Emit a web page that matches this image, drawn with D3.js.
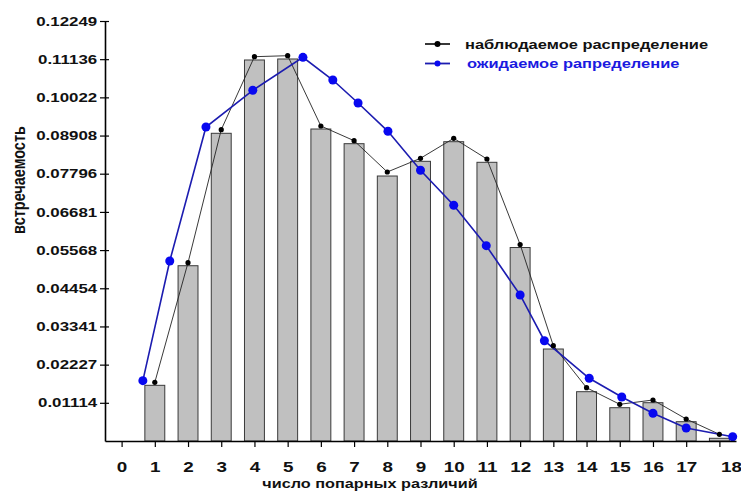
<!DOCTYPE html>
<html>
<head>
<meta charset="utf-8">
<script src="https://cdn.jsdelivr.net/npm/d3@7"></script>
<style>
  body { margin: 0; background: #fff; }
  text { font-family: "Liberation Sans", Arial, sans-serif; font-weight: bold; }
</style>
</head>
<body>
<script>
// categories (number of pairwise differences)
const xLabels = ["0","1","2","3","4","5","6","7","8","9","10","11","12","13","14","15","16","17","18"];
const yTickLabels = ["0.01114","0.02227","0.03341","0.04454","0.05568","0.06681","0.07796","0.08908","0.10022","0.11136","0.12249"];

// bars (observed histogram), categories 1..18
const barCats = [1,2,3,4,5,6,7,8,9,10,11,12,13,14,15,16,17,18];
const barValues = [0.01624,0.05112,0.08974,0.11112,0.11141,0.09099,0.08671,0.07728,0.08157,0.08729,0.08128,0.05643,0.02683,0.01438,0.00971,0.01117,0.00563,0.00079];

// observed distribution (black line)
const observedValues = [0.01712,0.05200,0.09079,0.11208,0.11237,0.09187,0.08758,0.07845,0.08245,0.08828,0.08224,0.05731,0.02779,0.01554,0.01070,0.01196,0.00642,0.00195];

// expected distribution (blue line)
const expectedX = [0.64,1.45,2.54,3.95,5.46,6.36,7.12,8.02,9.0,10.0,10.98,12.0,12.73,14.08,15.06,16.0,17.0,18.4];
const expectedValues = [0.01759,0.05250,0.09157,0.10228,0.11190,0.10528,0.09857,0.09032,0.07895,0.06874,0.05696,0.04258,0.02925,0.01829,0.01283,0.00808,0.00379,0.00125];

const legendLabels = ["наблюдаемое распределение", "ожидаемое рапределение"];

const width = 741, height = 495;
const svg = d3.select("body").append("svg")
    .attr("width", width)
    .attr("height", height);

const x = d3.scaleLinear().domain([-0.5, 18.5]).range([105, 736]);
const y = d3.scaleLinear().domain([0, 0.12249]).range([441, 21]);
const barW = x(0.6) - x(0);

// bars
svg.append("g").selectAll("rect")
    .data(barCats)
    .join("rect")
    .attr("x", (d) => x(d) - barW / 2)
    .attr("y", (d, i) => y(barValues[i]))
    .attr("width", barW)
    .attr("height", (d, i) => y(0) - y(barValues[i]))
    .attr("fill", "#c0c0c0")
    .attr("stroke", "#3a3a3a")
    .attr("stroke-width", 1);

// observed line
const obsPts = barCats.map((c, i) => [x(c), y(observedValues[i])]);
svg.append("path")
    .attr("d", d3.line()(obsPts))
    .attr("fill", "none")
    .attr("stroke", "#222")
    .attr("stroke-width", 0.9);

// expected line
const expPts = expectedX.map((c, i) => [x(c), y(expectedValues[i])]);
svg.append("path")
    .attr("d", d3.line()(expPts))
    .attr("fill", "none")
    .attr("stroke", "#1c1cb0")
    .attr("stroke-width", 1.6);
svg.append("g").selectAll("circle")
    .data(expPts)
    .join("circle")
    .attr("cx", (d) => d[0])
    .attr("cy", (d) => d[1])
    .attr("r", 4.5)
    .attr("fill", "#0808f0");

svg.append("g").selectAll("circle")
    .data(obsPts)
    .join("circle")
    .attr("cx", (d) => d[0])
    .attr("cy", (d) => d[1])
    .attr("r", 2.6)
    .attr("fill", "#000");

// y axis
const yAxis = svg.append("g")
    .attr("transform", `translate(${x.range()[0]},0)`)
    .call(d3.axisLeft(y)
        .tickValues(yTickLabels.map(Number))
        .tickFormat((d, i) => yTickLabels[i])
        .tickSizeInner(5)
        .tickSizeOuter(0));
yAxis.select(".domain").attr("stroke-width", 1.6);
yAxis.selectAll(".tick line").attr("x1", 4).attr("stroke-width", 1.2);
yAxis.selectAll(".tick text")
    .attr("x", -6)
    .attr("transform", "scale(1.3,1)")
    .style("font-size", "13px")
    .attr("fill", "#111");

// x axis
const xAxis = svg.append("g")
    .attr("transform", `translate(0,${y(0)})`)
    .call(d3.axisBottom(x)
        .tickValues(d3.range(xLabels.length))
        .tickFormat((d, i) => xLabels[i])
        .tickSizeInner(6)
        .tickSizeOuter(0)
        .tickPadding(14.5));
xAxis.select(".domain").attr("stroke-width", 1.6);
xAxis.selectAll(".tick line").attr("stroke-width", 1.2);
xAxis.selectAll(".tick text")
    .attr("transform", "scale(1.3,1)")
    .style("font-size", "14.5px")
    .attr("fill", "#111");
xAxis.selectAll(".tick text").filter((d) => d === 18).attr("x", 9);

// axis titles
svg.append("text")
    .attr("transform", "translate(370,488) scale(1.3,1)")
    .attr("text-anchor", "middle")
    .style("font-size", "12.5px")
    .attr("fill", "#111")
    .text("число попарных различий");

svg.append("text")
    .attr("transform", "translate(25,180) scale(1.3,1) rotate(-90)")
    .attr("text-anchor", "middle")
    .style("font-size", "14.5px")
    .attr("fill", "#111")
    .text("встречаемость");

// legend
const legendColors = [["#222", "#000", 3, "#111"], ["#1c1cb0", "#0808f0", 3, "#1a1ae0"]];
const legend = svg.append("g").selectAll("g")
    .data(legendLabels)
    .join("g")
    .attr("transform", (d, i) => `translate(0,${44 + i * 19.5})`);
legend.append("line")
    .attr("x1", 425).attr("x2", 450)
    .attr("stroke", (d, i) => legendColors[i][0])
    .attr("stroke-width", 1.8);
legend.append("circle")
    .attr("cx", 437.5)
    .attr("r", (d, i) => legendColors[i][2])
    .attr("fill", (d, i) => legendColors[i][1]);
legend.append("text")
    .attr("transform", (d, i) => `translate(${i === 0 ? 465 : 467},4.5) scale(1.22,1)`)
    .style("font-size", "13.5px")
    .attr("fill", (d, i) => legendColors[i][3])
    .text((d) => d);
</script>
</body>
</html>
